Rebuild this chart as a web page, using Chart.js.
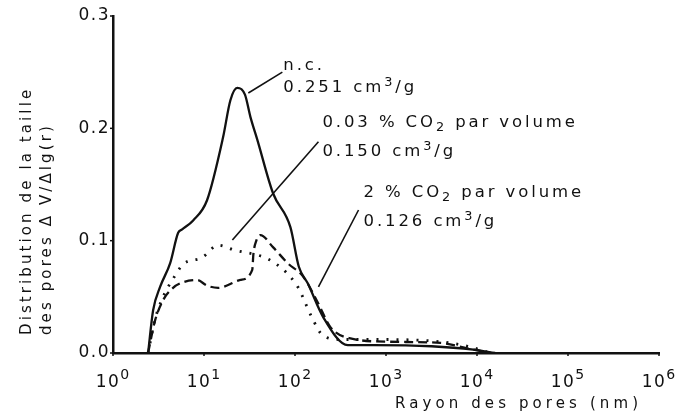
<!DOCTYPE html>
<html>
<head>
<meta charset="utf-8">
<script src="https://cdn.jsdelivr.net/npm/chart.js@4/dist/chart.umd.min.js"></script>
<style>
  html, body { margin: 0; padding: 0; background: #fff; }
  #wrap { width: 681px; height: 417px; position: relative; }
</style>
</head>
<body>
<div id="wrap"><canvas id="c" width="681" height="417"></canvas></div>
<script>
// ---- Data (pore radius in nm, distribution ΔV/Δlg(r)) ----
const radiusNC   = [2.43, 2.76, 3.3, 4.25, 5.2, 5.75, 7.6, 10.8, 16.2, 19.5, 23.2, 28.2, 32.4, 38.5, 57.5, 89, 110, 138, 204, 380, 724, 3160, 9100, 15800];
const valuesNC   = [0, 0.038, 0.059, 0.080, 0.107, 0.110, 0.118, 0.136, 0.192, 0.225, 0.236, 0.230, 0.210, 0.190, 0.142, 0.112, 0.077, 0.062, 0.032, 0.007, 0.007, 0.006, 0.003, 0];

const radiusCO2a = [2.43, 2.9, 3.55, 4.57, 5.9, 9.55, 14.3, 20.9, 57.6, 109, 129, 159, 200, 316, 1000, 3980, 7900, 14100];
const valuesCO2a = [0, 0.030, 0.050, 0.066, 0.079, 0.085, 0.096, 0.092, 0.081, 0.058, 0.045, 0.029, 0.016, 0.012, 0.012, 0.010, 0.006, 0];

const radiusCO2b = [2.43, 2.9, 3.55, 4.57, 5.9, 8.4, 10.8, 14.3, 25.1, 33.9, 34.9, 37.6, 41.6, 57.6, 83, 123, 178, 245, 407, 1120, 3980, 7940, 14100];
const valuesCO2b = [0, 0.029, 0.047, 0.058, 0.063, 0.065, 0.060, 0.058, 0.065, 0.074, 0.088, 0.100, 0.105, 0.094, 0.080, 0.068, 0.045, 0.023, 0.013, 0.010, 0.009, 0.004, 0];

const xTickExponents = [0, 1, 2, 3, 4, 5, 6];
const yTickValues = [0, 0.1, 0.2, 0.3];
const yTitleLines = ['Distribution de la taille', 'des pores \u0394 V/\u0394lg(r)'];
const xTitle = 'Rayon des pores (nm)';

// annotation texts (rich segments) ; anchors in data coordinates
const annotations = [
  { parts: [{t: 'n.c.'}], r: 74.5, v: 0.256 },
  { parts: [{t: '0.251 cm'}, {t: '3', sup: true}, {t: '/g'}], r: 74.5, v: 0.236 },
  { parts: [{t: '0.03 % CO'}, {t: '2', sub: true}, {t: ' par volume'}], r: 200, v: 0.205 },
  { parts: [{t: '0.150 cm'}, {t: '3', sup: true}, {t: '/g'}], r: 200, v: 0.179 },
  { parts: [{t: '2 % CO'}, {t: '2', sub: true}, {t: ' par volume'}], r: 566, v: 0.1425 },
  { parts: [{t: '0.126 cm'}, {t: '3', sup: true}, {t: '/g'}], r: 566, v: 0.1167 }
];
const leaders = [
  { r1: 72.6, v1: 0.250, r2: 30.7, v2: 0.2315 },
  { r1: 181, v1: 0.188, r2: 20.5, v2: 0.1006 },
  { r1: 499, v1: 0.1273, r2: 181, v2: 0.0588 }
];

function pts(xs, ys) { return xs.map((x, i) => ({ x: x, y: ys[i] })); }

const FONT = '"DejaVu Sans", "Liberation Sans", sans-serif';
const INK = '#111';

function drawRich(ctx, x, y, parts, size, spacing) {
  let cx = x;
  ctx.textBaseline = 'middle';
  ctx.textAlign = 'left';
  for (const p of parts) {
    const s = (p.sup || p.sub) ? size * 0.78 : size;
    const dy = p.sup ? -size * 0.33 : (p.sub ? size * 0.3 : 0);
    ctx.font = s + 'px ' + FONT;
    ctx.letterSpacing = spacing + 'px';
    ctx.fillText(p.t, cx, y + dy);
    cx += ctx.measureText(p.t).width;
  }
  return cx - x;
}
function measureRich(ctx, parts, size, spacing) {
  let w = 0;
  for (const p of parts) {
    const s = (p.sup || p.sub) ? size * 0.78 : size;
    ctx.font = s + 'px ' + FONT;
    ctx.letterSpacing = spacing + 'px';
    w += ctx.measureText(p.t).width;
  }
  return w;
}

const decorPlugin = {
  id: 'decor',
  afterDraw(chart) {
    const ctx = chart.ctx;
    const xs = chart.scales.x, ys = chart.scales.y;
    const area = chart.chartArea;
    ctx.save();
    ctx.fillStyle = INK;
    ctx.strokeStyle = INK;

    // axis tick marks
    ctx.lineWidth = 1.5;
    for (const e of xTickExponents) {
      const px = xs.getPixelForValue(Math.pow(10, e));
      ctx.beginPath(); ctx.moveTo(px, area.bottom); ctx.lineTo(px, area.bottom + 3); ctx.stroke();
    }
    for (const v of yTickValues) {
      const py = ys.getPixelForValue(v);
      ctx.beginPath(); ctx.moveTo(area.left, py); ctx.lineTo(area.left - 3, py); ctx.stroke();
    }

    // x tick labels 10^n
    for (const e of xTickExponents) {
      const px = xs.getPixelForValue(Math.pow(10, e));
      const parts = [{t: '10'}, {t: String(e), sup: true}];
      const size = 17;
      const w = measureRich(ctx, parts, size, 1.5);
      let cx = px - w / 2;
      ctx.textBaseline = 'alphabetic';
      ctx.textAlign = 'left';
      ctx.font = size + 'px ' + FONT; ctx.letterSpacing = '1.5px';
      ctx.fillText('10', cx, 387);
      cx += ctx.measureText('10').width;
      ctx.font = Math.round(size * 0.85) + 'px ' + FONT;
      ctx.fillText(String(e), cx, 379);
    }

    // y tick labels
    ctx.font = '17px ' + FONT; ctx.letterSpacing = '1.5px';
    ctx.textAlign = 'right'; ctx.textBaseline = 'middle';
    for (const v of yTickValues) {
      const py = ys.getPixelForValue(v);
      ctx.fillText(v.toFixed(1), area.left - 3, py);
    }

    // axis titles
    ctx.font = '15px ' + FONT; ctx.letterSpacing = '4.1px';
    ctx.textAlign = 'left'; ctx.textBaseline = 'middle';
    ctx.fillText(xTitle, 395, 404);

    ctx.save();
    ctx.font = '15px ' + FONT; ctx.letterSpacing = '3.1px';
    ctx.translate(27, 335);
    ctx.rotate(-Math.PI / 2);
    ctx.textAlign = 'left'; ctx.textBaseline = 'middle';
    ctx.fillText(yTitleLines[0], 0, 0);
    ctx.fillText(yTitleLines[1], 0, 20);
    ctx.restore();

    // leader lines
    ctx.lineWidth = 1.6;
    for (const l of leaders) {
      ctx.beginPath();
      ctx.moveTo(xs.getPixelForValue(l.r1), ys.getPixelForValue(l.v1));
      ctx.lineTo(xs.getPixelForValue(l.r2), ys.getPixelForValue(l.v2));
      ctx.stroke();
    }
    // annotation texts
    for (const a of annotations) {
      drawRich(ctx, xs.getPixelForValue(a.r), ys.getPixelForValue(a.v), a.parts, 16.5, 2.9);
    }
    ctx.restore();
  }
};

const common = { borderColor: INK, pointRadius: 0, fill: false, cubicInterpolationMode: 'monotone' };

new Chart(document.getElementById('c'), {
  type: 'line',
  data: {
    datasets: [
      Object.assign({ label: 'n.c. 0.251 cm³/g', data: pts(radiusNC, valuesNC), borderWidth: 2.3 }, common),
      Object.assign({ label: '0.03 % CO₂ par volume 0.150 cm³/g', data: pts(radiusCO2a, valuesCO2a), borderWidth: 2.8, borderDash: [2, 8] }, common),
      Object.assign({ label: '2 % CO₂ par volume 0.126 cm³/g', data: pts(radiusCO2b, valuesCO2b), borderWidth: 2.3, borderDash: [9, 5] }, common)
    ]
  },
  options: {
    responsive: false,
    animation: false,
    devicePixelRatio: 1,
    layout: { padding: { left: 105, right: 22, top: 16, bottom: 56 } },
    plugins: { legend: { display: false }, tooltip: { enabled: false } },
    scales: {
      x: {
        type: 'logarithmic', min: 1, max: 1e6,
        grid: { display: false },
        border: { display: true, color: INK, width: 2.5 },
        ticks: { display: false }
      },
      y: {
        type: 'linear', min: 0, max: 0.3,
        grid: { display: false },
        border: { display: true, color: INK, width: 2.5 },
        ticks: { display: false, stepSize: 0.1 }
      }
    }
  },
  plugins: [decorPlugin]
});
</script>
</body>
</html>
